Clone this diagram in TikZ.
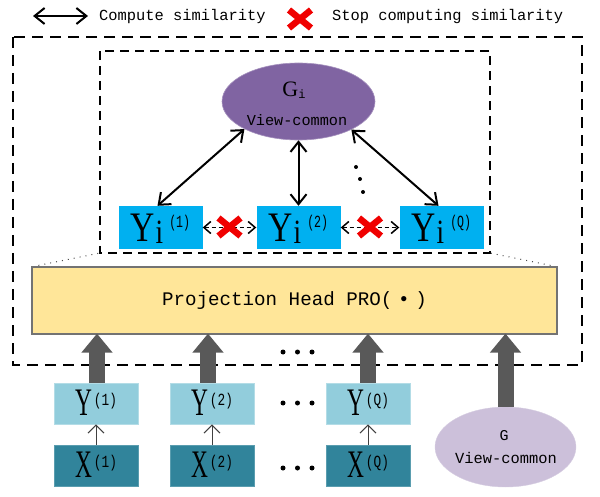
\documentclass[tikz,border=0pt]{standalone}
\usepackage{fontspec}
\setmainfont{Liberation Serif}
\setmonofont{Liberation Mono}
\usetikzlibrary{shapes.geometric,arrows.meta}
\definecolor{yicol}{HTML}{00B0F0}
\definecolor{gicol}{HTML}{8064A2}
\definecolor{projcol}{HTML}{FFE699}
\definecolor{ycol}{HTML}{92CDDC}
\definecolor{xcol}{HTML}{31849B}
\definecolor{gcol}{HTML}{CCC0DA}
\definecolor{bigarrcol}{HTML}{595959}
\definecolor{xred}{HTML}{F00000}
\newcommand\BigLab[2]{\scalebox{0.6}[1]{\fontsize{39}{39}\selectfont #1}\kern2pt\raisebox{10pt}{\scalebox{0.75}[1]{\ttfamily\fontsize{17}{17}\selectfont(#2)}}}
\newcommand\YiLab[1]{\scalebox{0.8}[1]{\fontsize{42}{42}\selectfont Y}\kern0.5pt\raisebox{-1.5pt}{\scalebox{0.8}[1]{\fontsize{34}{34}\selectfont i}}\kern6pt\raisebox{14pt}{\scalebox{0.68}[1]{\ttfamily\fontsize{17}{17}\selectfont(#1)}}}
\begin{document}
\begin{tikzpicture}[x=1pt,y=-1pt,
  legtext/.style={font=\ttfamily\fontsize{15.4}{16}\selectfont, inner sep=0pt, anchor=west},
  simarrow/.style={line width=2pt, {Straight Barb[length=10pt,width=16pt]}-{Straight Barb[length=10pt,width=16pt]}},
  stoparrow/.style={line width=1.5pt, dash pattern=on 4pt off 3pt, {Straight Barb[length=7pt,width=12pt]}-{Straight Barb[length=7pt,width=12pt]}},
  outerdash/.style={line width=2.6pt, dash pattern=on 11pt off 7pt},
  innerdash/.style={line width=2.3pt, dash pattern=on 9pt off 6pt},
  yibox/.style={rectangle, fill=yicol, minimum width=84pt, minimum height=43pt, inner sep=0pt, text height=29pt, text depth=0pt},
  ybox/.style={rectangle, fill=ycol, draw=ycol!70!white, line width=0.8pt, minimum width=84pt, minimum height=41pt, inner sep=0pt, text height=23pt, text depth=0pt},
  xbox/.style={ybox, fill=xcol, draw=xcol!80!white},
  bigarrow/.style={draw=bigarrcol, line width=16pt, -{Triangle[length=19pt,width=30pt]}, shorten >=-1pt},
  thinarrow/.style={draw=black!75, line width=1pt, -{Straight Barb[length=8pt,width=16pt]}},
  dotline/.style={line width=1pt, black!70, dash pattern=on 1pt off 5pt},
  smalldot/.style={fill=black},
  redx/.pic={\draw[xred, line width=6.5pt] (-11,-9) -- (11,9) (-11,9) -- (11,-9);}
]
\useasboundingbox (0,0) rectangle (600,497);

% legend
\coordinate (la) at (33,16);
\coordinate (lb) at (88,16);
\draw[simarrow] (la) -- (lb);
\node[legtext] (lt1) at (99,17) {Compute similarity};
\pic at (300,19) {redx};
\node[legtext] (lt2) at (332,17) {Stop computing similarity};

% frames
\draw[outerdash] (13,37) rectangle (582,365);
\coordinate (inNW) at (100,51);
\coordinate (inSE) at (490,253);
\coordinate (inSW) at (100,253);
\draw[innerdash] (inNW) rectangle (inSE);

% top ellipse
\node[ellipse, fill=gicol, draw=gicol!70!white, line width=0.6pt, minimum width=153pt, minimum height=77pt, inner sep=0pt] (gi) at (298.5,101.5) {};
\node[anchor=base, inner sep=0pt] (gilab) at (294,97) {\fontsize{22}{22}\selectfont G\raisebox{-2pt}{\ttfamily\fontsize{12}{12}\selectfont i}};
\node[inner sep=0pt, font=\ttfamily\fontsize{15.2}{16}\selectfont] (gitxt) at (297,120) {View-common};

% Yi boxes
\node[yibox] (yi1) at (160.5,227.5) {\YiLab{1}};
\node[yibox] (yi2) at (298.5,227.5) {\YiLab{2}};
\node[yibox] (yi3) at (441.5,227.5) {\YiLab{Q}};

\draw[simarrow] ([xshift=-3pt]yi1.north) -- (gi.207);
\draw[simarrow] (yi2.north) -- (gi.south);
\draw[simarrow] ([xshift=-3pt]yi3.north) -- (gi.332);
\fill[smalldot] (356,167) circle (2pt) (360,179) circle (2pt) (363,192) circle (2pt);

\draw[stoparrow] (yi1.east) -- (yi2.west);
\draw[stoparrow] (yi2.east) -- (yi3.west);
\pic at (229.5,227) {redx};
\pic at (370,227) {redx};

% projection head
\node[rectangle, fill=projcol, draw=black!55, line width=1.2pt, minimum width=525pt, minimum height=67pt, inner sep=0pt, font=\ttfamily\fontsize{19.2}{20}\selectfont] (proj) at (294.5,300.5) {Projection Head PRO(\makebox[23pt]{•})};
\draw[dotline] ([xshift=7pt,yshift=1pt]proj.north west) -- (inSW);
\draw[dotline] ([xshift=-7pt,yshift=1pt]proj.north east) -- (inSE);

% bottom boxes
\node[ybox] (y1) at (96,403.5) {\BigLab{Y}{1}};
\node[ybox] (y2) at (212,403.5) {\BigLab{Y}{2}};
\node[ybox] (y3) at (368,403.5) {\BigLab{Y}{Q}};
\node[xbox] (x1) at (96,466) {\BigLab{X}{1}};
\node[xbox] (x2) at (212,466) {\BigLab{X}{2}};
\node[xbox] (x3) at (368,466) {\BigLab{X}{Q}};
\node[ellipse, fill=gcol, draw=gcol!80!white, minimum width=141pt, minimum height=80pt, inner sep=0pt] (g) at (505.5,447) {};
\node[inner sep=0pt, font=\ttfamily\fontsize{15}{16}\selectfont] (glab) at (504,436) {G};
\node[inner sep=0pt, font=\ttfamily\fontsize{15.4}{16}\selectfont] (gtxt) at (506,458) {View-common};

\draw[thinarrow] (x1.north) -- (y1.south);
\draw[thinarrow] (x2.north) -- (y2.south);
\draw[thinarrow] (x3.north) -- (y3.south);

\draw[bigarrow] ([xshift=1pt]y1.north) -- ([xshift=1pt]y1.north |- proj.south);
\draw[bigarrow] ([xshift=-4pt]y2.north) -- ([xshift=-4pt]y2.north |- proj.south);
\draw[bigarrow] (y3.north) -- (y3.north |- proj.south);
\draw[bigarrow] (g.north) -- (g.north |- proj.south);

% ellipsis dots
\fill[smalldot] (283,352) circle (2.5pt) (297.5,352) circle (2.5pt) (312,352) circle (2.5pt);
\fill[smalldot] (283,403) circle (2.5pt) (297.5,403) circle (2.5pt) (312,403) circle (2.5pt);
\fill[smalldot] (283,468) circle (2.5pt) (297.5,468) circle (2.5pt) (312,468) circle (2.5pt);
\end{tikzpicture}
\end{document}
